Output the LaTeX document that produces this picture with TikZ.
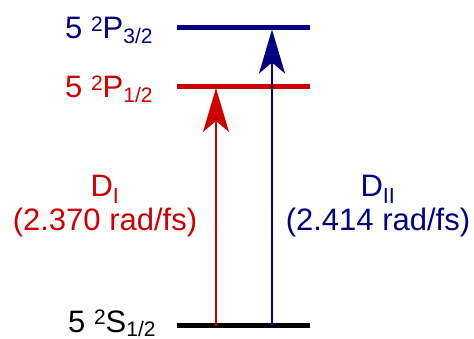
\documentclass[tikz,border=0pt]{standalone}
\usepackage{fontspec}
\setmainfont{Liberation Sans}
\usetikzlibrary{arrows.meta}
\definecolor{dblue}{RGB}{0,0,128}
\definecolor{dred}{RGB}{204,0,0}
% #1 letter, #2 subscript text, #3 subscript lowering
\newcommand\lvlabel[3]{5 \raisebox{7.2pt}{\fontsize{21}{21}\selectfont 2}#1\raisebox{-#3}{\fontsize{21}{21}\selectfont #2}}
\begin{document}
\begin{tikzpicture}[x=1pt,y=-1pt,
  level/.style={line width=5pt},
  trans/.style={line width=2pt,-{Stealth[length=44pt,width=26pt,inset=11pt]}},
  lbl/.style={inner sep=0pt,anchor=base west,font=\fontsize{31}{34}\selectfont},
  dlbl/.style={inner sep=0pt,anchor=base,align=center,font=\fontsize{31}{34}\selectfont},
  ]
\useasboundingbox (0,0) rectangle (474,339);
% levels
\coordinate (p3a) at (177,28);  \coordinate (p3b) at (310,28);
\coordinate (p1a) at (177,87);  \coordinate (p1b) at (310,87);
\coordinate (s1a) at (177,325.5); \coordinate (s1b) at (310,325.5);
\draw[level,dblue] (p3a) -- (p3b);
\draw[level,dred] (p1a) -- (p1b);
\draw[level,black] (s1a) -- (s1b);
% transitions
\coordinate (rs) at (216,325.5); \coordinate (re) at (216,88);
\coordinate (bs) at (272,325.5); \coordinate (be) at (272,29.5);
\draw[trans,dred] (rs) -- (re);
\draw[trans,dblue] (bs) -- (be);
% labels
\node[lbl,text=dblue] (lp3) at (65,39) {\lvlabel{P}{3/2}{5pt}};
\node[lbl,text=dred] (lp1) at (65,98) {\lvlabel{P}{1/2}{5pt}};
\node[lbl,text=black] (ls1) at (68,332) {\lvlabel{S}{1/2}{4pt}};
\node[dlbl,text=dred] (dI) at (105,231) {D\textsubscript{I}\\(2.370 rad/fs)};
\node[dlbl,text=dblue] (dII) at (378,231) {D\textsubscript{II}\\(2.414 rad/fs)};
\end{tikzpicture}
\end{document}
